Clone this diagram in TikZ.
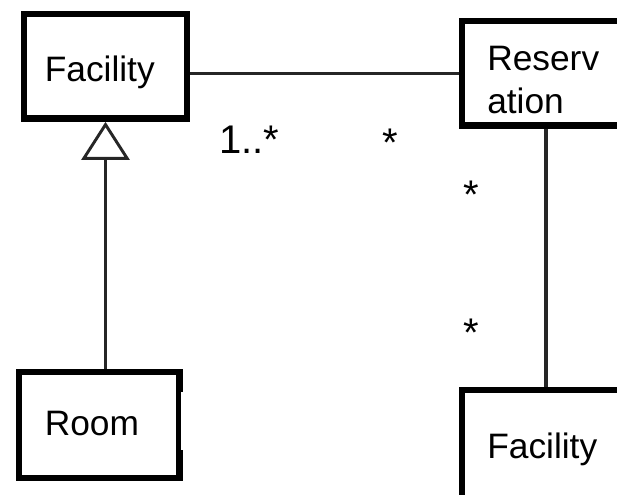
\documentclass[tikz,border=0pt]{standalone}
\usepackage{fontspec}
\setmainfont{Liberation Sans}
\usetikzlibrary{arrows.meta}
\begin{document}
\begin{tikzpicture}[x=0.75pt,y=-0.75pt,
  classbox/.style={draw=black, line width=5pt, inner sep=0pt},
  classname/.style={font=\fontsize{26.5}{32.25}\selectfont, inner sep=0pt, anchor=base west, align=left},
  mult/.style={font=\fontsize{30}{36}\selectfont, inner sep=0pt, anchor=base},
  assoc/.style={line width=2.3pt, draw=black!85}
]
\useasboundingbox (0,0) rectangle (617,495);
\clip (0,0) rectangle (617,495);

% class boxes
\node[classbox, minimum width=122.25pt, minimum height=78.4pt] (fac1) at (105.5,66.25) {};
\node[classbox, minimum width=126pt, minimum height=78.4pt] (res) at (546,73.25) {};
\node[classbox, minimum width=126pt, minimum height=90pt] (fac2) at (546,450) {};
\node[classbox, minimum width=120.4pt, minimum height=79.5pt] (room) at (99.25,425) {};
% notch in the right border of Room
\fill[white] (180.6,392) rectangle (184,450);

% class names (a multi-line node sits on the baseline of its last line)
\node[classname] (fac1name) at (44.5,82) {Facility};
\node[classname] (resname) at (487,114) {Reserv\\ation};
\node[classname] (fac2name) at (487,458) {Facility};
\node[classname] (roomname) at (44.5,435) {Room};

% associations
\draw[assoc] (res.west) -- (res.west -| fac1.east);
\draw[assoc] (res.south) -- (fac2.north);

% generalisation Room -> Facility
\draw[line width=2.2pt, draw=black!85, -{Triangle[open, length=28.5pt, width=36pt, line width=2.2pt]}]
  (fac1.south |- room.north) -- (fac1.south);

% multiplicities
\node[mult, anchor=base west] (m1) at (219,154) {1..*};
\node[mult] (m2) at (390,157) {*};
\node[mult] (m3) at (471,209) {*};
\node[mult] (m4) at (471,346) {*};
\end{tikzpicture}
\end{document}
